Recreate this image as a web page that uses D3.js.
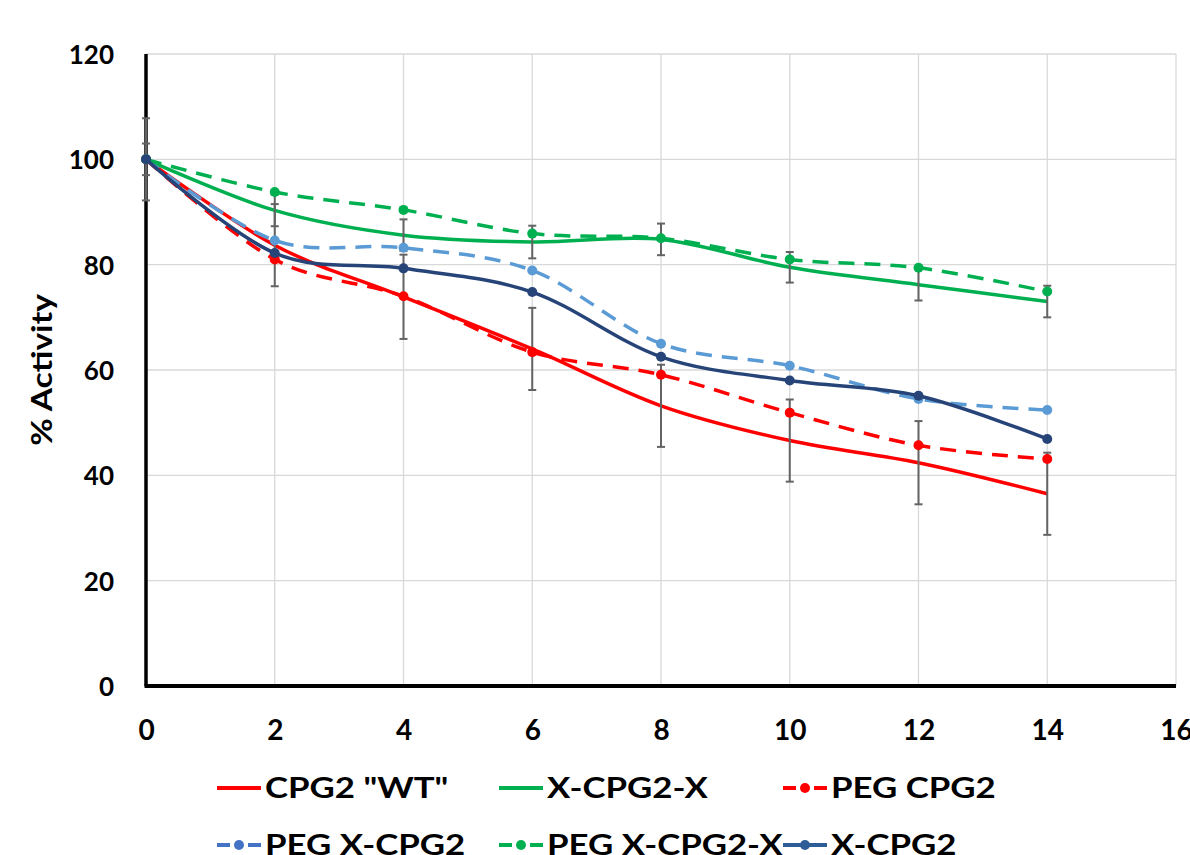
<!DOCTYPE html>
<html>
<head>
<meta charset="utf-8">
<script src="https://cdn.jsdelivr.net/npm/d3@7/dist/d3.min.js"></script>
<style>
  html, body { margin: 0; padding: 0; background: #fff; }
  svg { display: block; }
</style>
</head>
<body>
<div id="chart"></div>
<script>
// ---- data ----
const days = [0, 2, 4, 6, 8, 10, 12, 14];
const xTicks = [0, 2, 4, 6, 8, 10, 12, 14, 16];
const yTicks = [0, 20, 40, 60, 80, 100, 120];

const seriesNames = ['CPG2 "WT"', 'X-CPG2-X', 'PEG CPG2', 'PEG X-CPG2', 'PEG X-CPG2-X', 'X-CPG2'];

const wtValues        = [100, 83.7, 73.9, 64.0, 53.2, 46.6, 42.4, 36.5];
const xcpg2xValues    = [100, 90.3, 85.6, 84.3, 84.8, 79.5, 76.2, 73.0];
const pegCpg2Values   = [100, 81.0, 74.0, 63.4, 59.1, 51.9, 45.7, 43.1];
const pegXcpg2Values  = [100, 84.6, 83.2, 78.9, 65.0, 60.8, 54.5, 52.4];
const pegXcpg2xValues = [100, 93.8, 90.4, 85.9, 85.0, 81.0, 79.4, 74.9];
const xcpg2Values     = [100, 82.2, 79.3, 74.8, 62.5, 58.0, 55.1, 46.9];

// error bars (+/-) only on the two reference series
const wtErrors     = [7.8, 7.8, 8.0, 7.8, 7.8, 7.8, 7.9, 7.8];
const xcpg2xErrors = [3.0, 3.0, 3.0, 3.1, 3.0, 2.9, 3.0, 3.0];

// ---- styles ----
const colors       = ['#FF0000', '#00B050', '#FF0000', '#5B9BD5', '#00B050', '#264478'];
const legendColors = ['#FF0000', '#00B050', '#FF0000', '#4472C4', '#00B050', '#2E5C97'];
const dashed  = [false, false, true, true, true, false];
const markers = [false, false, true, true, true, true];

const allValues = [wtValues, xcpg2xValues, pegCpg2Values, pegXcpg2Values, pegXcpg2xValues, xcpg2Values];
const allErrors = [wtErrors, xcpg2xErrors, null, null, null, null];

const width = 1190, height = 855;
const margin = { top: 54, right: 14, bottom: 169, left: 146 };
const innerWidth = width - margin.left - margin.right;
const innerHeight = height - margin.top - margin.bottom;

const svg = d3.select('#chart').append('svg')
    .attr('width', width)
    .attr('height', height);

const g = svg.append('g')
    .attr('transform', `translate(${margin.left},${margin.top})`);

const x = d3.scaleLinear().domain([0, 16]).range([0, innerWidth]);
const y = d3.scaleLinear().domain([0, 120]).range([innerHeight, 0]);

// grid
g.append('g')
    .selectAll('line.hgrid')
    .data(yTicks.filter(d => d > 0))
    .join('line')
    .attr('x1', 0).attr('x2', x(16))
    .attr('y1', d => y(d)).attr('y2', d => y(d))
    .attr('stroke', '#D9D9D9').attr('stroke-width', 1.3);

g.append('g')
    .selectAll('line.vgrid')
    .data(xTicks.filter(d => d > 0))
    .join('line')
    .attr('x1', d => x(d)).attr('x2', d => x(d))
    .attr('y1', 0).attr('y2', y(0))
    .attr('stroke', '#D9D9D9').attr('stroke-width', 1.3);

// axes (no tick marks, bold labels)
const yAxis = g.append('g')
    .call(d3.axisLeft(y).tickValues(yTicks).tickSize(0).tickPadding(32));
yAxis.select('.domain').remove();
yAxis.selectAll('text')
    .style('font-family', 'Lato, sans-serif')
    .style('font-weight', 'bold')
    .style('font-size', '26px')
    .attr('dy', '0.36em')
    .style('fill', '#000');

const xAxis = g.append('g')
    .attr('transform', `translate(0,${innerHeight})`)
    .call(d3.axisBottom(x).tickValues(xTicks).tickSize(0).tickPadding(34));
xAxis.select('.domain').remove();
xAxis.selectAll('text')
    .style('font-family', 'Lato, sans-serif')
    .style('font-weight', 'bold')
    .style('font-size', '28px')
    .style('fill', '#000');

g.append('line')
    .attr('x1', 0).attr('x2', 0)
    .attr('y1', 0).attr('y2', y(0))
    .attr('stroke', '#000').attr('stroke-width', 3.5);
g.append('line')
    .attr('x1', -1.5).attr('x2', x(16))
    .attr('y1', y(0)).attr('y2', y(0))
    .attr('stroke', '#000').attr('stroke-width', 4);

// y title
svg.append('text')
    .attr('transform', `translate(52,${margin.top + innerHeight / 2}) rotate(-90) scale(1.2,1)`)
    .attr('text-anchor', 'middle')
    .style('font-family', 'Lato, sans-serif')
    .style('font-weight', 'bold')
    .style('font-size', '28px')
    .style('fill', '#000')
    .text('% Activity');

// series
const line = d3.line()
    .x((d, i) => x(days[i]))
    .y(d => y(d))
    .curve(d3.curveCatmullRom.alpha(0));

allValues.forEach((vals, s) => {
    const sg = g.append('g');
    sg.append('path')
        .datum(vals)
        .attr('d', line)
        .attr('fill', 'none')
        .attr('stroke', colors[s])
        .attr('stroke-width', 3.5)
        .attr('stroke-dasharray', dashed[s] ? '16,10' : null);

    if (allErrors[s]) {
        const errs = allErrors[s];
        const eb = sg.append('g').selectAll('g')
            .data(vals)
            .join('g');
        eb.append('line')
            .attr('x1', (d, i) => x(days[i])).attr('x2', (d, i) => x(days[i]))
            .attr('y1', (d, i) => y(d + errs[i])).attr('y2', (d, i) => y(d - errs[i]))
            .attr('stroke', '#636363').attr('stroke-width', 2);
        [1, -1].forEach(sign => {
            eb.append('line')
                .attr('x1', (d, i) => x(days[i]) - 4).attr('x2', (d, i) => x(days[i]) + 4)
                .attr('y1', (d, i) => y(d + sign * errs[i])).attr('y2', (d, i) => y(d + sign * errs[i]))
                .attr('stroke', '#636363').attr('stroke-width', 2);
        });
    }

    if (markers[s]) {
        sg.selectAll('circle')
            .data(vals)
            .join('circle')
            .attr('cx', (d, i) => x(days[i]))
            .attr('cy', d => y(d))
            .attr('r', 5)
            .attr('fill', colors[s]);
    }
});

// legend
const legendCols = [217, 499, 783];
const legendRows = [788, 845];
const legend = svg.append('g');
seriesNames.forEach((name, s) => {
    const lx = legendCols[s % 3];
    const ly = legendRows[Math.floor(s / 3)];
    const item = legend.append('g').attr('transform', `translate(${lx},${ly})`);
    if (dashed[s]) {
        item.append('line').attr('x1', 0).attr('x2', 13).attr('y1', 0).attr('y2', 0)
            .attr('stroke', legendColors[s]).attr('stroke-width', 4);
        item.append('line').attr('x1', 31).attr('x2', 44).attr('y1', 0).attr('y2', 0)
            .attr('stroke', legendColors[s]).attr('stroke-width', 4);
    } else {
        item.append('line').attr('x1', 0).attr('x2', 44).attr('y1', 0).attr('y2', 0)
            .attr('stroke', legendColors[s]).attr('stroke-width', 4);
    }
    if (markers[s]) {
        item.append('circle').attr('cx', 22).attr('cy', 0).attr('r', 5)
            .attr('fill', legendColors[s]);
    }
    item.append('text')
        .attr('transform', 'translate(48,10) scale(1.2,1)')
        .style('font-family', 'Lato, sans-serif')
        .style('font-weight', 'bold')
        .style('font-size', '29px')
        .style('fill', '#000')
        .text(name);
});
</script>
</body>
</html>
